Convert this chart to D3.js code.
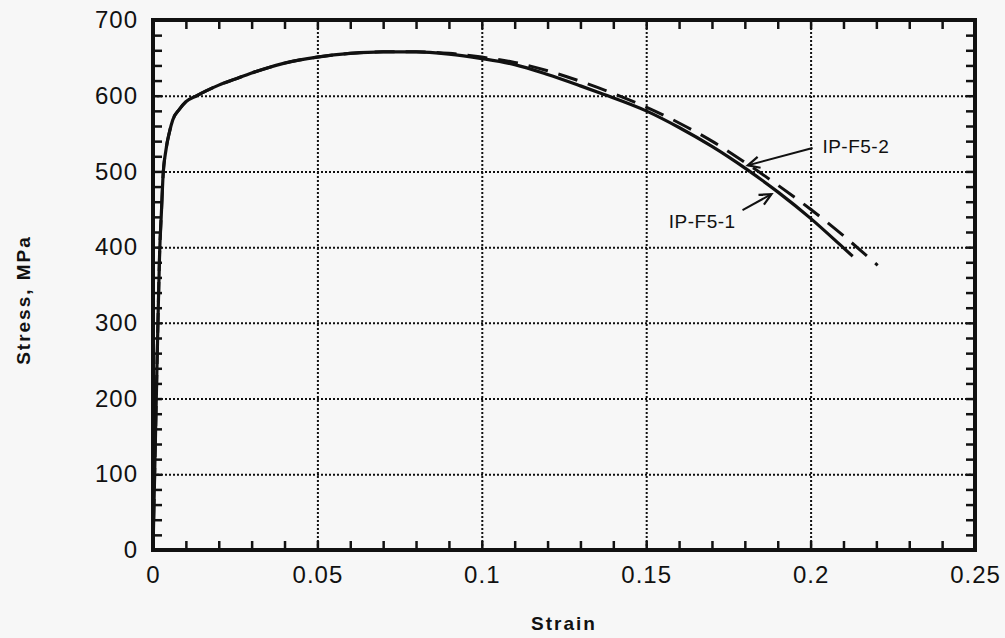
<!DOCTYPE html>
<html>
<head>
<meta charset="utf-8">
<script src="https://cdn.jsdelivr.net/npm/d3@7"></script>
<style>
  body { margin: 0; background: #f7f7f7; }
  svg { display: block; background: #f7f7f7; }
  text { font-family: "Liberation Sans", Arial, sans-serif; fill: #111; }
</style>
</head>
<body>
<svg id="chart" width="1005" height="638"></svg>
<script>
// strain / stress readings for the two specimens
let solidStrain = [0, 0.0005, 0.001, 0.0015, 0.002, 0.0026, 0.003, 0.004, 0.005, 0.006, 0.008, 0.010, 0.0133, 0.016, 0.02, 0.025, 0.03, 0.035, 0.04, 0.05, 0.06, 0.07, 0.08, 0.09, 0.1, 0.11, 0.12, 0.13, 0.137, 0.15, 0.16, 0.17, 0.1805, 0.19, 0.2, 0.21, 0.2128];
let solidStress = [0, 100, 200, 300, 390, 450, 490, 530, 552, 568, 582, 592, 600, 606, 614, 622, 630, 637, 643, 651, 656, 658, 658, 655, 649, 641, 628, 613, 602, 580, 558, 533, 503, 473, 438, 399, 388];

let dashStrain = [0, 0.0005, 0.001, 0.0015, 0.002, 0.0026, 0.003, 0.004, 0.005, 0.006, 0.008, 0.010, 0.0133, 0.016, 0.02, 0.025, 0.03, 0.035, 0.04, 0.05, 0.06, 0.07, 0.08, 0.09, 0.1, 0.11, 0.12, 0.13, 0.14, 0.15, 0.16, 0.17, 0.18, 0.19, 0.2, 0.21, 0.2204];
let dashStress = [0, 100, 200, 300, 390, 450, 490, 530, 552, 568, 582, 592, 600, 606, 614, 622, 630, 637, 643, 651, 656, 658, 658, 656, 651, 644, 633, 619, 603, 585, 564, 540, 512, 482, 450, 415, 376];

let xTicks = [0, 0.05, 0.1, 0.15, 0.2, 0.25];
let xTickLabels = ["0", "0.05", "0.1", "0.15", "0.2", "0.25"];
let yTicks = [0, 100, 200, 300, 400, 500, 600, 700];

// labels: [name, tip strain, tip stress, tail strain, tail stress, text strain, text stress, anchor]
let labels = [
  ["IP-F5-2", 0.1809, 508, 0.2006, 531, 0.2036, 524, "start"],
  ["IP-F5-1", 0.1881, 470, 0.1793, 449, 0.1772, 425, "end"]
];

let svg = d3.select("#chart");
let x = d3.scaleLinear().domain([0, 0.25]).range([153, 975]);
let y = d3.scaleLinear().domain([0, 700]).range([550, 20]);
let w = 975 - 153, h = 550 - 20;

// dotted grid
let grid = svg.append("g");
grid.append("g").attr("transform", "translate(0,550)")
  .call(d3.axisBottom(x).tickValues([0.05, 0.1, 0.15, 0.2]).tickSize(-h).tickFormat(""));
grid.append("g").attr("transform", "translate(153,0)")
  .call(d3.axisLeft(y).tickValues([100, 200, 300, 400, 500, 600]).tickSize(-w).tickFormat(""));
grid.selectAll(".domain").remove();
grid.selectAll("line").attr("stroke", "#111").attr("stroke-width", 2).attr("stroke-dasharray", "2,2");

// minor ticks on all four sides, pointing in
let minorX = d3.range(0, 0.2501, 0.01);
let minorY = d3.range(0, 701, 20);
let tk = svg.append("g");
tk.append("g").attr("transform", "translate(0,550)").call(d3.axisBottom(x).tickValues(minorX).tickSize(-9).tickFormat(""));
tk.append("g").attr("transform", "translate(0,20)").call(d3.axisTop(x).tickValues(minorX).tickSize(-9).tickFormat(""));
tk.append("g").attr("transform", "translate(153,0)").call(d3.axisLeft(y).tickValues(minorY).tickSize(-9).tickFormat(""));
tk.append("g").attr("transform", "translate(975,0)").call(d3.axisRight(y).tickValues(minorY).tickSize(-9).tickFormat(""));
tk.selectAll(".domain").remove();
tk.selectAll("line").attr("stroke", "#111").attr("stroke-width", 2.5);

// frame
svg.append("rect").attr("x", 153).attr("y", 20).attr("width", w).attr("height", h)
  .attr("fill", "none").attr("stroke", "#111").attr("stroke-width", 4);

// tick labels
let xl = svg.append("g").attr("transform", "translate(0,550)")
  .call(d3.axisBottom(x).tickValues(xTicks).tickSize(0).tickPadding(16).tickFormat((d, i) => xTickLabels[i]));
let yl = svg.append("g").attr("transform", "translate(153,0)")
  .call(d3.axisLeft(y).tickValues(yTicks).tickSize(0).tickPadding(15).tickFormat(d3.format("d")));
[xl, yl].forEach(g => {
  g.select(".domain").remove();
  g.selectAll("text").attr("font-size", 24).attr("letter-spacing", 1)
    .attr("font-family", "'Liberation Sans', Arial, sans-serif").attr("fill", "#111");
});

// curves
let line = d3.line().x(d => x(d[0])).y(d => y(d[1])).curve(d3.curveMonotoneX);
svg.append("path").datum(dashStrain.map((s, i) => [s, dashStress[i]]))
  .attr("d", line).attr("fill", "none").attr("stroke", "#111")
  .attr("stroke-width", 3).attr("stroke-dasharray", "20,11");
svg.append("path").datum(solidStrain.map((s, i) => [s, solidStress[i]]))
  .attr("d", line).attr("fill", "none").attr("stroke", "#111").attr("stroke-width", 3.2);

// labels with arrows
labels.forEach(l => {
  let tx = x(l[1]), ty = y(l[2]), sx = x(l[3]), sy = y(l[4]);
  svg.append("line").attr("x1", sx).attr("y1", sy).attr("x2", tx).attr("y2", ty)
    .attr("stroke", "#111").attr("stroke-width", 2);
  let ang = Math.atan2(sy - ty, sx - tx);
  let head = [ang - 0.45, ang + 0.45].map(a => [tx + 13 * Math.cos(a), ty + 13 * Math.sin(a)]);
  svg.append("path").attr("d", `M${head[0]}L${tx},${ty}L${head[1]}`)
    .attr("fill", "none").attr("stroke", "#111").attr("stroke-width", 2.2);
  svg.append("text").attr("x", x(l[5])).attr("y", y(l[6])).attr("text-anchor", l[7])
    .attr("font-size", 19).attr("letter-spacing", 0.5).text(l[0]);
});

// axis titles
svg.append("text").attr("x", 564).attr("y", 630).attr("text-anchor", "middle")
  .attr("font-size", 19).attr("font-weight", "bold").attr("letter-spacing", 2).text("Strain");
svg.append("text").attr("transform", "translate(30,300) rotate(-90)").attr("text-anchor", "middle")
  .attr("font-size", 19).attr("font-weight", "bold").attr("letter-spacing", 2).text("Stress, MPa");
</script>
</body>
</html>
